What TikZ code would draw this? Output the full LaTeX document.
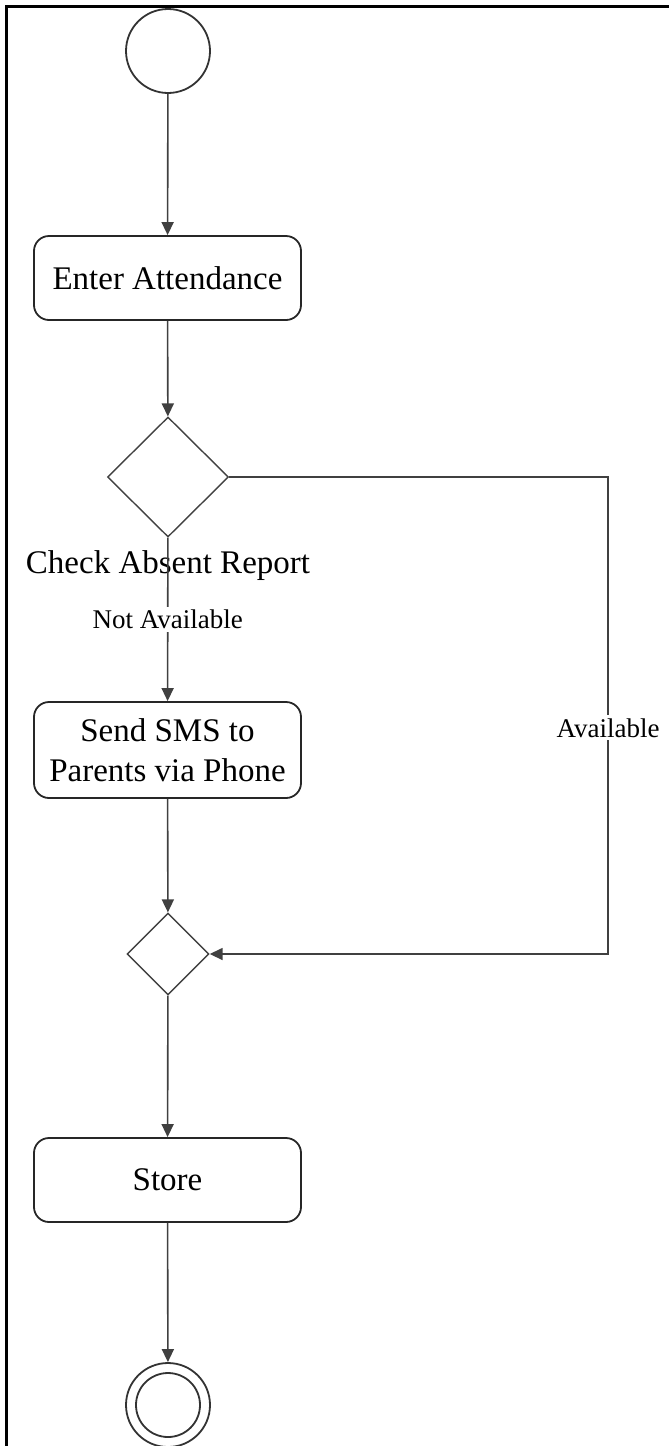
\documentclass[tikz,border=0pt]{standalone}
\usepackage{fontspec}
\setmainfont{Liberation Serif}
\usetikzlibrary{shapes.geometric,arrows.meta}

\begin{document}
\begin{tikzpicture}[x=0.5pt,y=-0.5pt,
    every node/.style={font=\fontsize{16.5pt}{20pt}\selectfont},
    action/.style={draw=black!85, line width=0.9pt, rounded corners=7.5pt,
        minimum width=133.5pt, minimum height=42pt, align=center, inner sep=2pt},
    choice/.style={draw=black!75, line width=0.7pt, diamond, inner sep=0pt},
    startnode/.style={draw=black!80, line width=0.9pt, circle, minimum size=42pt, inner sep=0pt},
    endnode/.style={startnode, path picture={\draw[black!80, line width=0.9pt]
        (path picture bounding box.center) circle (16pt);}},
    flow/.style={draw=black!75, line width=0.8pt, -{Triangle[length=6.5pt,width=6pt]}},
    guard/.style={font=\fontsize{13.5pt}{15pt}\selectfont, fill=white, inner sep=1.5pt}]

                \useasboundingbox (0,0) rectangle (669,1446);
                \begin{scope}
                    \clip (0,0) rectangle (669,1446);
                    \draw[line width=1.5pt] (6,6) rectangle (700,1500);
                \end{scope}

                \node[startnode] (start) at (168,51) {};
                \node[action] (enter) at (167.5,278) {Enter Attendance};
                \node[choice, minimum width=60.5pt, minimum height=60pt] (check) at (168,477) {};
                \node (checklbl) at (168,566) {Check Absent Report};
                \node[action, minimum height=48pt] (sms) at (167.5,750) {Send SMS to\\Parents via Phone};
                \node[choice, minimum width=41pt, minimum height=41pt] (merge) at (168,954) {};
                \node[action] (store) at (167.5,1180) {Store};
                \node[endnode] (stop) at (168,1405) {};
                \coordinate (turn) at (608,477);

                \draw[flow] (start) -- (enter);
                \draw[flow] (enter) -- (check);
                \draw[flow] (check) -- node[guard] {Not Available} (sms);
                \draw[flow] (check.east) -- (turn) |- node[guard, pos=0.263] {Available} (merge.east);
                \draw[flow] (sms) -- (merge);
                \draw[flow] (merge) -- (store);
                \draw[flow] (store) -- (stop);
            \end{tikzpicture}
\end{document}
